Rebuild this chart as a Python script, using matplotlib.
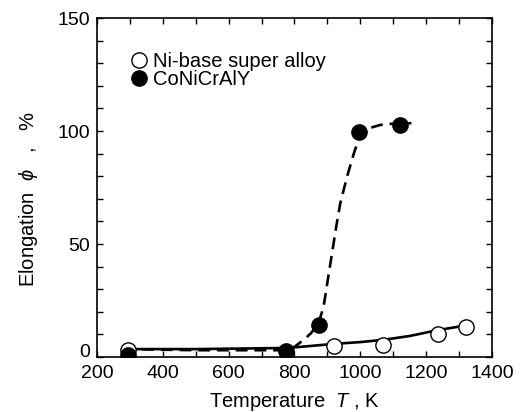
import matplotlib
matplotlib.use("Agg")
import matplotlib.pyplot as plt
import matplotlib.transforms as mtransforms
from matplotlib.ticker import MultipleLocator, FuncFormatter

plt.rcParams['font.family'] = ['Liberation Sans', 'DejaVu Sans']
plt.rcParams['mathtext.fontset'] = 'custom'
plt.rcParams['mathtext.it'] = 'Liberation Sans:italic'

# measured points
ni_T = [293, 920, 1070, 1235, 1322]
ni_e = [3.0, 4.8, 5.1, 10.2, 13.4]
co_T = [295, 773, 873, 997, 1121]
co_e = [0.8, 2.8, 14.0, 99.5, 102.5]

# trend curves
ni_fit_T = [285, 500, 780, 920, 1000, 1070, 1150, 1212, 1260, 1322]
ni_fit_e = [3.5, 3.5, 4.0, 5.8, 6.6, 7.6, 9.3, 11.2, 12.5, 14.0]
co_fit_T = [280, 500, 760, 800, 827, 850, 873, 888, 900, 913, 926, 939, 960,
            980, 994, 1005, 1020, 1060, 1100, 1155]
co_fit_e = [3.5, 3.0, 3.0, 4.5, 7.5, 10.5, 15.0, 22.0, 33.0, 45.0, 57.0, 68.0,
            80.0, 90.0, 96.0, 99.0, 101.0, 102.7, 103.3, 103.5]

fig = plt.figure(figsize=(5.24, 4.12), dpi=100)
ax = fig.add_axes([0.185, 0.1335, 0.754, 0.8225])

ax.plot(ni_fit_T, ni_fit_e, color='black', lw=1.9, zorder=2)
ax.plot(co_fit_T, co_fit_e, color='black', lw=1.9, dashes=(4.5, 2.6), zorder=2)
ax.plot(ni_T, ni_e, 'o', ms=11, mfc='white', mec='black', mew=1.0, ls='none',
        label='Ni-base super alloy', zorder=3)
ax.plot(co_T, co_e, 'o', ms=11, mfc='black', mec='black', ls='none',
        label='CoNiCrAlY', zorder=3)

ax.set_xlim(200, 1400)
ax.set_ylim(0, 150)
ax.xaxis.set_major_locator(MultipleLocator(200))
ax.xaxis.set_minor_locator(MultipleLocator(100))
ax.yaxis.set_major_locator(MultipleLocator(50))
ax.yaxis.set_minor_locator(MultipleLocator(10))
# the "0" is drawn by hand a bit higher so it clears the "200"
ax.yaxis.set_major_formatter(FuncFormatter(lambda v, p: '' if v == 0 else '%d' % v))
ax.tick_params(which='both', direction='in', top=True, right=True,
               length=4, width=1.0, labelsize=14)
ax.tick_params(axis='x', pad=6)
ax.tick_params(axis='y', pad=5)
for s in ax.spines.values():
    s.set_linewidth(1.2)

off = mtransforms.ScaledTranslation(-5 / 72, 3 / 72, fig.dpi_scale_trans)
ax.text(0, 0, '0', transform=ax.transAxes + off, ha='right', va='center',
        fontsize=14)

ax.set_xlabel(r'Temperature  $T$ , K', fontsize=14.5, labelpad=6)
ax.set_ylabel(r'Elongation  $\phi$   ,   %', fontsize=14.5)
ax.yaxis.set_label_coords(-0.145, 0.467)

ax.legend(loc='upper left', bbox_to_anchor=(0.058, 0.925), frameon=False,
          fontsize=14.5, handletextpad=0.15, labelspacing=-0.05,
          borderaxespad=0, handlelength=1.1)

fig.savefig('out.png', dpi=100)
